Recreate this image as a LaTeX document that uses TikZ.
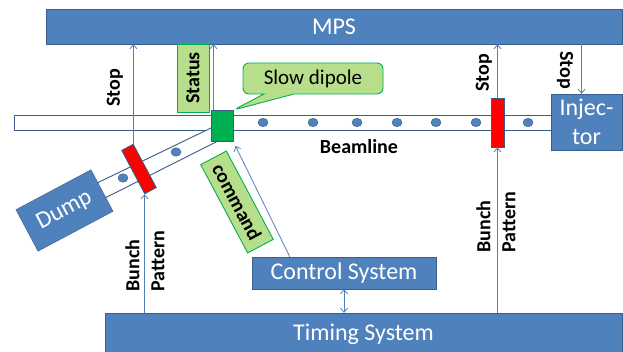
\documentclass[tikz,border=0pt]{standalone}
\usepackage{fontspec}
\setmainfont{Carlito}
\usetikzlibrary{arrows.meta,shapes.callouts}

\definecolor{boxblue}{RGB}{79,129,189}
\definecolor{edgeblue}{RGB}{56,93,138}
\definecolor{okgreen}{RGB}{0,176,80}
\definecolor{palegreen}{RGB}{183,222,139}

\tikzset{
  sysbox/.style={draw=edgeblue,fill=boxblue,text=white,inner sep=0pt,
    font=\fontsize{24}{29}\selectfont},
  tagbox/.style={draw=okgreen,fill=palegreen,inner sep=0pt,line width=0.9pt,
    font=\bfseries\fontsize{20}{24}\selectfont},
  stopbar/.style={draw=edgeblue,fill=red,inner sep=0pt,line width=0.9pt},
  magnet/.style={circle,draw=edgeblue,fill=boxblue,inner sep=0pt,
    minimum width=10pt,yscale=0.85},
  sig/.style={draw=boxblue,line width=0.8pt,-{Straight Barb[length=4pt,width=7pt]}},
  lbl/.style={font=\bfseries\fontsize{20}{25}\selectfont,inner sep=0pt}
}

\begin{document}
\begin{tikzpicture}[x=1pt,y=-1pt]
    \useasboundingbox (0,0) rectangle (623,352);

    % --- Systems ---
    \node[sysbox,minimum width=576pt,minimum height=35pt] (mps) at (334,26.5) {MPS};
    \node[sysbox,minimum width=517pt,minimum height=42pt] (timing) at (363.5,334) {Timing System};
    \node[sysbox,minimum width=184pt,minimum height=32pt] (ctrl) at (344,273) {Control System};

    % --- Beamline and dump line ---
    \draw[edgeblue,fill=white,line width=0.9pt] (14,115) rectangle (552,130);
    \draw[edgeblue,fill=white,line width=0.9pt] (212,127.5) -- (95,184) -- (103,199) -- (216,142) -- cycle;
    \foreach \x [count=\i] in {263,313,357,397,436,476,528} {
      \node[magnet] (m\i) at (\x,122.5) {};
    }
    \node[magnet] (d1) at (176,152) {};
    \node[magnet] (d2) at (123,178) {};
    \node[lbl] (beam) at (359,147) {Beamline};

    % --- Devices ---
    \node[draw=edgeblue,fill=okgreen,line width=0.9pt,minimum width=22pt,minimum height=31pt,inner sep=0pt] (dipole) at (222,126) {};
    \node[stopbar,minimum width=13pt,minimum height=49pt] (stopR) at (497.5,122.5) {};
    \node[stopbar,minimum width=13pt,minimum height=49pt,rotate=28] (stopD) at (139,169) {};
    \node[sysbox,minimum width=85pt,minimum height=47pt,rotate=28] (dump) at (64.5,210.5) {Dump};
    \node[sysbox,minimum width=71pt,minimum height=56pt,align=center] (inj) at (586.5,122) {Injec-\\tor};

    % --- Green tags ---
    \node[tagbox,minimum width=68pt,minimum height=32pt,rotate=90] (status) at (193,78) {Status};
    \node[tagbox,minimum width=100pt,minimum height=29pt,rotate=-62] (cmd) at (237,202) {command};
    \node[tagbox,rectangle callout,rounded corners=6pt,minimum width=140pt,minimum height=31pt,
      font=\fontsize{21}{25}\selectfont,callout pointer width=30pt,
      callout absolute pointer={(dipole.north east)}] (slow) at (313,78.5) {Slow dipole};

    % --- Signals ---
    \draw[sig] (stopD.north east) -- (stopD.north east |- mps.south);
    \draw[sig] (stopD.south west |- timing.north) -- (stopD.south west);
    \draw[sig] ([xshift=3pt]dipole.north west) -- ([xshift=3pt]dipole.north west |- mps.south);
    \draw[sig] (stopR.north) -- (stopR.north |- mps.south);
    \draw[sig] (stopR.south |- timing.north) -- (stopR.south);
    \draw[sig] ([xshift=-5pt]inj.north |- mps.south) -- ([xshift=-5pt]inj.north);
    \draw[sig] ([xshift=38pt]ctrl.north west) -- ([xshift=2pt,yshift=-4pt]dipole.south east);
    \draw[sig,{Straight Barb[length=4pt,width=7pt]}-{Straight Barb[length=4pt,width=7pt]}] (ctrl.south) -- (ctrl.south |- timing.north);

    % --- Signal labels ---
    \node[lbl,rotate=90] (stopLtxt) at (115,88) {Stop};
    \node[lbl,rotate=90] (stopRtxt) at (484,73) {Stop};
    \node[lbl,rotate=-90] (stopItxt) at (565,70) {Stop};
    \node[lbl,rotate=90,align=left] (bunchL) at (145,261) {Bunch\\Pattern};
    \node[lbl,rotate=90,align=left] (bunchR) at (496,222) {Bunch\\Pattern};

  \end{tikzpicture}
\end{document}
